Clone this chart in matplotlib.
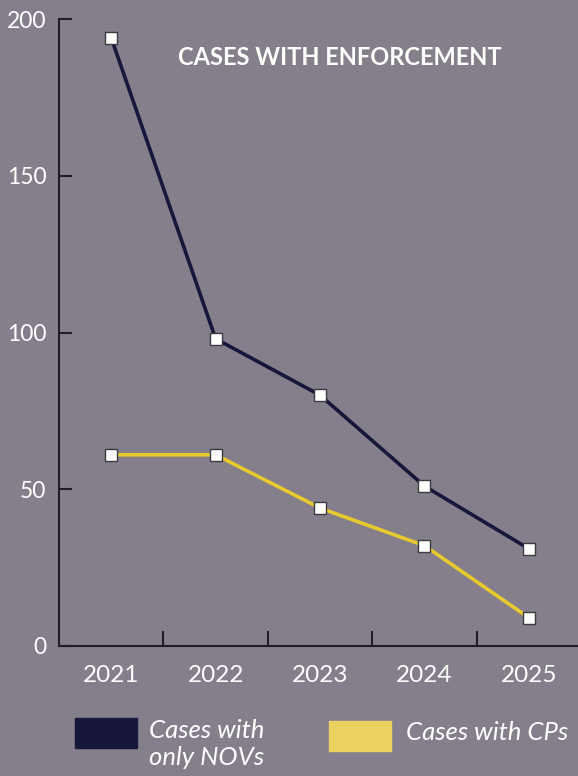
import numpy as np
import matplotlib
matplotlib.use("Agg")
from matplotlib import pyplot as plt
from matplotlib.patches import Rectangle

# data
years = ["2021", "2022", "2023", "2024", "2025"]
only_novs = [194, 98, 80, 51, 31]
with_cps = [61, 61, 44, 32, 9]
yticks = [0, 50, 100, 150, 200]

bg = "#847f8b"
navy = "#16173a"
yellow = "#e8c92e"
patch_yellow = "#ecd060"

plt.rcParams['font.family'] = ['Lato', 'DejaVu Sans']

fig = plt.figure(figsize=(5.78, 7.76), dpi=100, facecolor=bg)
ax = fig.add_axes([59/578, 1 - 646/776, 1 - 59/578, (646 - 19)/776])
ax.set_facecolor(bg)

x = np.arange(len(years))
mk = dict(marker='s', markersize=8, markerfacecolor='white',
          markeredgecolor='#3a3a40', markeredgewidth=1.0)
ax.plot(x, only_novs, color=navy, lw=2.6, zorder=3, **mk)
ax.plot(x, with_cps, color=yellow, lw=2.6, zorder=3, **mk)

ax.set_xlim(-0.5, 4.47)
ax.set_ylim(0, 200)

for s in ['top', 'right']:
    ax.spines[s].set_visible(False)
for s in ['left', 'bottom']:
    ax.spines[s].set_color('#1e1e24')
    ax.spines[s].set_linewidth(1.5)

ax.set_yticks(yticks)
ax.set_yticklabels([str(v) for v in yticks], color='white', fontsize=16.5)
ax.tick_params(axis='y', direction='in', length=9, width=1.5, color='#1e1e24', pad=9)

# x tick marks between categories, labels centered on categories
ax.set_xticks(x[:-1] + 0.5)
ax.set_xticklabels([])
ax.tick_params(axis='x', direction='in', length=11, width=1.5, color='#1e1e24')
for xi, lab in zip(x, years):
    ax.text(xi, -0.031, lab, transform=ax.get_xaxis_transform(),
            ha='center', va='top', color='white', fontsize=17.5)

ax.text(0.541, 0.939, "CASES WITH ENFORCEMENT", transform=ax.transAxes,
        ha='center', va='center', color='white', fontsize=17, fontweight='bold')

# legend
fig.patches.append(Rectangle((75/578, 1 - 748/776), 62/578, 30/776,
                             transform=fig.transFigure, color=navy))
fig.text(149/578, 1 - 719/776, "Cases with\nonly NOVs", color='white',
         fontsize=18.5, style='italic', va='top', ha='left', linespacing=1.2)
fig.patches.append(Rectangle((329/578, 1 - 751/776), 62/578, 30/776,
                             transform=fig.transFigure, color=patch_yellow))
fig.text(406/578, 1 - 733/776, "Cases with CPs", color='white',
         fontsize=18.5, style='italic', va='center', ha='left')

fig.savefig("out.png", dpi=100, facecolor=bg)
